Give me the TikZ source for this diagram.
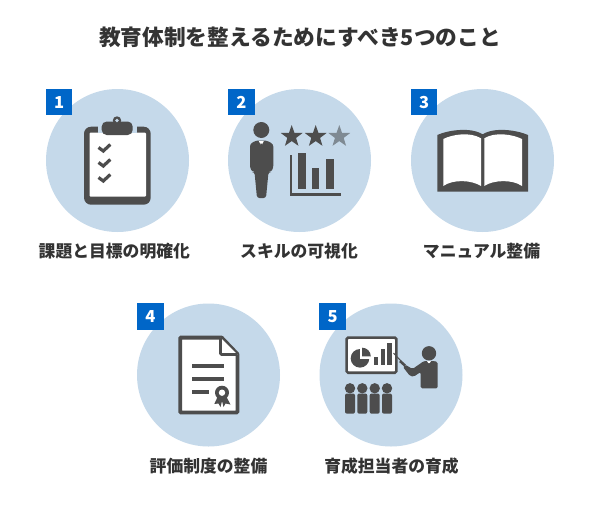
\documentclass[tikz,border=0pt]{standalone}
\usepackage{fontspec}
\setmainfont{Noto Sans CJK JP}
\usetikzlibrary{shapes.geometric}
\definecolor{disc}{HTML}{C5D9EA}
\definecolor{badgeblue}{HTML}{0066C8}
\definecolor{ink}{HTML}{4D4D4D}
\definecolor{txt}{HTML}{333333}
\definecolor{fadedstar}{HTML}{7F8A93}
\tikzset{
  discnode/.style={circle,fill=disc,draw=none,minimum size=143pt,inner sep=0pt},
  badge/.style={fill=badgeblue,draw=none,minimum size=26.5pt,inner sep=0pt,text=white,font=\fontsize{16.5}{16.5}\selectfont\bfseries},
  lbl/.style={text=txt,inner sep=0pt,font=\fontsize{16.8}{17}\selectfont\bfseries},
  ttl/.style={text=txt,inner sep=0pt,font=\fontsize{21.7}{22}\selectfont\bfseries},
  starnode/.style={star,star points=5,star point ratio=2.5,minimum size=23pt,inner sep=0pt,draw=none,fill=#1},
}
\begin{document}
\begin{tikzpicture}[x=1pt,y=-1pt]
\useasboundingbox[fill=white] (0,0) rectangle (600,504);
\node[ttl] (title) at (300,37) {教育体制を整えるためにすべき5つのこと};
% discs
\node[discnode] (c1) at (117.5,160.5) {};
\node[discnode] (c2) at (299.5,160.5) {};
\node[discnode] (c3) at (482.5,160.5) {};
\node[discnode] (c4) at (208.5,375) {};
\node[discnode] (c5) at (391,375) {};
% badges
\node[badge] (b1) at (59.2,102.2) {1};
\node[badge] (b2) at (241.4,102.2) {2};
\node[badge] (b3) at (424.2,102.2) {3};
\node[badge] (b4) at (150.4,316.5) {4};
\node[badge] (b5) at (332.7,316.5) {5};
% labels
\node[lbl] (l1) at (114.3,251) {課題と目標の明確化};
\node[lbl] (l2) at (299,251) {スキルの可視化};
\node[lbl] (l3) at (481.5,251) {マニュアル整備};
\node[lbl] (l4) at (208.5,466) {評価制度の整備};
\node[lbl] (l5) at (391.5,466) {育成担当者の育成};
% icon 1: clipboard
\fill[ink,rounded corners=7pt] (84,126.7) rectangle (150.7,204.7);
\fill[white,rounded corners=1pt] (89.5,132.7) rectangle (146,196.7);
\fill[disc] (98,125) rectangle (136.5,132.7);
\fill[white] (98,132.7) rectangle (136.5,136);
\fill[ink,rounded corners=5pt] (101.7,121.5) rectangle (132.7,135);
\fill[ink] (117,120.5) circle (4.2);
\fill[disc] (117,120.5) circle (1.9);
\foreach \yy in {148,163,178}{
  \draw[ink,line width=3.2pt] (98.5,\yy-0.5) -- (103.3,\yy+3) -- (110.3,\yy-3.5);
}
% icon 2: person, stars, chart
\fill[ink] (261.3,130) circle (8);
\fill[ink,rounded corners=2.5pt] (250,144) -- (256,140.5) -- (266.5,140.5) -- (273.3,144) -- (273.3,168) -- (271,172) -- (268.5,172) -- (266,198) -- (257,198) -- (254.5,172) -- (252.5,172) -- (250,168) -- cycle;
\fill[white] (258.8,141) -- (263.8,141) -- (261.3,146) -- cycle;
\fill[ink] (260.2,143.5) -- (262.4,143.5) -- (262.2,146) -- (262.7,151) -- (261.3,153) -- (259.9,151) -- (260.4,146) -- cycle;
\node[starnode=ink] (s1) at (291.7,136.5) {};
\node[starnode=ink] (s2) at (315.7,136.5) {};
\node[starnode=fadedstar] (s3) at (339.3,136.5) {};
\fill[ink] (290.2,155) rectangle (292.4,195.5);
\fill[ink] (290.2,193.2) rectangle (340.7,195.5);
\fill[ink] (297.7,153.3) rectangle (305.7,189.3);
\fill[ink] (311.7,168.3) rectangle (319.3,189.3);
\fill[ink] (325.7,159.3) rectangle (333.7,189.3);
% icon 3: book
\fill[ink] (437.3,135) .. controls (447,130.5) and (470,126.5) .. (482.7,134.3)
  .. controls (495,126.5) and (518,130.5) .. (528,135) -- (528,191.7) -- (437.3,191.7) -- cycle;
\fill[white] (443.3,139) .. controls (452,134.5) and (470,131.5) .. (481,138.3)
  -- (481,186) .. controls (472,180) and (453,179) .. (443.3,186) -- cycle;
\fill[white] (484.3,138.3) .. controls (495,131.5) and (513,134.5) .. (522,139)
  -- (522,186) .. controls (512,179) and (493,180) .. (484.3,186) -- cycle;
% icon 4: document
\draw[ink,line width=3.8pt,fill=white,line join=round] (180.2,337.6) -- (221.7,337.6) -- (237.4,354) -- (237.4,412.4) -- (180.2,412.4) -- cycle;
\draw[ink,line width=2.8pt,fill=white,line join=round,rounded corners=1pt] (220.5,337.6) -- (220.5,354.5) -- (237.4,354.5);
\fill[ink] (191.7,364.2) rectangle (224,367.8);
\fill[ink] (191.7,376.9) rectangle (224,380.5);
\fill[ink] (191.7,389.9) rectangle (209,393.5);
\fill[ink] (218,396) -- (214.3,404) -- (218.5,403.5) -- (220.5,407) -- (222,401) -- (223.5,407) -- (225.5,403.5) -- (230.5,404.5) -- (226,396) -- cycle;
\fill[ink] (222,392.7) circle (7);
\fill[white] (222,392.7) circle (3.2);
% icon 5: presentation
\draw[ink,line width=2.6pt,fill=white,rounded corners=1.5pt] (346.6,337.6) rectangle (396.4,372.7);
\fill[ink] (360,358.3) circle (9.3);
\fill[white] (360.4,347.5) rectangle (371.5,359);
\fill[ink] (362.2,347.7) -- (362.2,356.3) -- (370.8,356.3) arc[start angle=0,end angle=90,radius=8.6pt] -- cycle;
\fill[ink] (374.3,356.7) rectangle (378.3,365);
\fill[ink] (381,349.3) rectangle (385,365);
\fill[ink] (387.3,343.3) rectangle (391.7,365);
\draw[ink,line width=1pt] (393.5,353) -- (401,361);
\draw[ink,line width=2.6pt] (400,361) -- (405,365.5);
\fill[ink] (429,353.3) circle (7.2);
\fill[ink,rounded corners=1.5pt] (424,361) -- (434,361) -- (437.7,362) -- (437.7,388.3) -- (420.7,388.3) -- (420.7,372) -- (414,376.5) -- (410,376) -- (403,367) -- (405,364.5) -- (412.5,369) -- cycle;
\fill[white] (427,361) -- (431,361) -- (429,364) -- cycle;
\fill[ink] (428.3,363) -- (429.7,363) -- (430.2,369) -- (429,371) -- (427.8,369) -- cycle;
\foreach \xx in {350,362.3,374.7,387}{
  \fill[ink] (\xx,388.3) circle (5.2);
  \fill[ink,rounded corners=2pt] (\xx-5,393.5) rectangle (\xx+5,413.7);
}
\end{tikzpicture}
\end{document}
